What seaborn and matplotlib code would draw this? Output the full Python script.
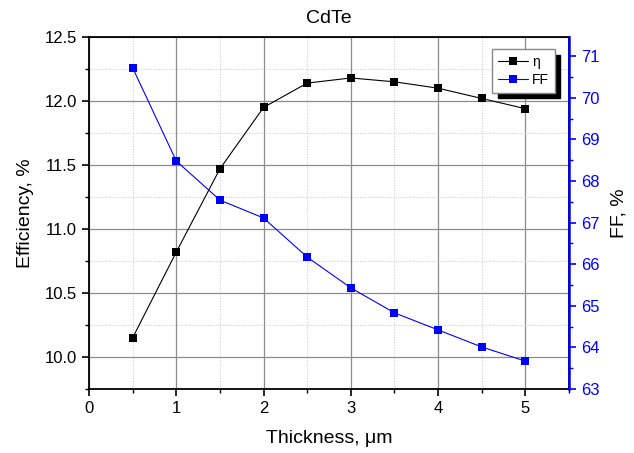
import numpy as np
import pandas as pd
import seaborn as sns
from matplotlib import pyplot as plt
from matplotlib.ticker import MultipleLocator

thickness = [0.5, 1.0, 1.5, 2.0, 2.5, 3.0, 3.5, 4.0, 4.5, 5.0]
efficiency = [10.15, 10.82, 11.47, 11.95, 12.14, 12.18, 12.15, 12.10, 12.02, 11.94]
fill_factor = [70.72, 68.48, 67.54, 67.11, 66.17, 65.43, 64.83, 64.42, 64.01, 63.67]

sns.set_style("ticks", {"text.color": "black", "axes.labelcolor": "black",
                        "xtick.color": "black", "ytick.color": "black"})
plt.rcParams['font.family'] = ['Liberation Sans', 'DejaVu Sans']

df = pd.DataFrame({"Thickness": thickness, "Efficiency": efficiency, "FF": fill_factor})

fig = plt.figure(figsize=(6.34, 4.53), dpi=100)
ax = fig.add_axes([0.1404, 0.1413, 0.7571, 0.7770])
ax2 = ax.twinx()

sns.lineplot(data=df, x="Thickness", y="Efficiency", ax=ax, color="black", lw=0.8,
             marker="s", markersize=6, markeredgewidth=0, label="\u03b7", legend=False)
sns.lineplot(data=df, x="Thickness", y="FF", ax=ax2, color="blue", lw=0.8,
             marker="s", markersize=6, markeredgewidth=0, label="FF", legend=False)

ax.set_xlim(0, 5.5)
ax.set_ylim(9.75, 12.5)
ax2.set_ylim(63, 71.46)

ax.xaxis.set_major_locator(MultipleLocator(1))
ax.xaxis.set_minor_locator(MultipleLocator(0.5))
ax.yaxis.set_major_locator(MultipleLocator(0.5))
ax.yaxis.set_minor_locator(MultipleLocator(0.25))
ax.yaxis.set_major_formatter(plt.FormatStrFormatter('%.1f'))
ax2.yaxis.set_major_locator(MultipleLocator(1))
ax2.yaxis.set_minor_locator(MultipleLocator(0.5))

ax.grid(True, which='major', color='#8c8c8c', lw=0.9)
ax.grid(True, which='minor', color='#c8c8c8', lw=0.7, ls=':')
ax.set_axisbelow(True)

for sp in ax.spines.values():
    sp.set_linewidth(1.3)
    sp.set_color('black')
ax2.spines['right'].set_color('blue')
ax2.spines['right'].set_linewidth(1.8)
for sp in ['left', 'top', 'bottom']:
    ax2.spines[sp].set_visible(False)

ax.tick_params(which='major', direction='out', length=5, width=1.2, labelsize=12, colors='black')
ax.tick_params(which='minor', direction='out', length=3, width=1.0)
ax2.tick_params(which='major', direction='out', length=5, width=1.2, labelsize=12,
                colors='blue', labelcolor='blue')
ax2.tick_params(which='minor', direction='out', length=3, width=1.0, colors='blue')

ax.set_xlabel("Thickness, \u03bcm", fontsize=14, labelpad=10, color='black')
ax.set_ylabel("Efficiency, %", fontsize=14, labelpad=8, color='black')
ax2.set_ylabel("FF, %", fontsize=14, labelpad=8, color='black')
ax.set_title("CdTe", fontsize=14, pad=10, color='black')

h1, l1 = ax.get_legend_handles_labels()
h2, l2 = ax2.get_legend_handles_labels()
leg = ax2.legend(h1 + h2, l1 + l2, loc='upper right', bbox_to_anchor=(0.985, 0.985),
                 fontsize=10, fancybox=False,
                 shadow={'color': 'black', 'alpha': 1, 'ox': 4, 'oy': -4},
                 framealpha=1, edgecolor='#888888', handlelength=2.2, borderpad=0.4,
                 labelspacing=0.3, handletextpad=0.3)
for t in leg.get_texts():
    t.set_color('black')

fig.savefig("out.png", dpi=100)
